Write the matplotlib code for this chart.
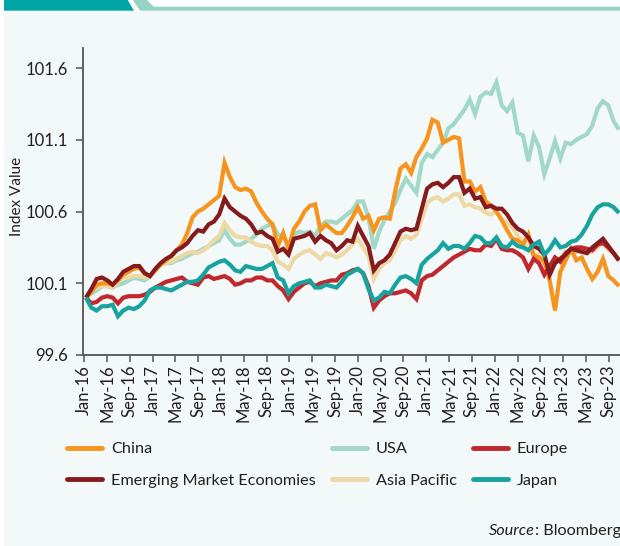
import numpy as np
import matplotlib
matplotlib.use("Agg")
import matplotlib.pyplot as plt
from matplotlib.patches import Polygon, Rectangle
from matplotlib.text import Annotation

plt.rcParams['font.family'] = ['Lato', 'DejaVu Sans']

years = ["16", "17", "18", "19", "20", "21", "22", "23"]
months = ["Jan", "May", "Sep"]
tick_labels = [f"{m}-{y}" for y in years for m in months]

china = [100.0, 100.04, 100.09, 100.1, 100.1, 100.09, 100.12, 100.16, 100.18, 100.2,
         100.21, 100.17, 100.15, 100.19, 100.23, 100.26, 100.29, 100.33, 100.37, 100.45,
         100.56, 100.6, 100.62, 100.65, 100.68, 100.71, 100.94, 100.84, 100.77, 100.75,
         100.76, 100.74, 100.66, 100.6, 100.55, 100.51, 100.36, 100.45, 100.34, 100.48,
         100.53, 100.6, 100.64, 100.65, 100.47, 100.51, 100.48, 100.45, 100.45, 100.5,
         100.56, 100.63, 100.55, 100.57, 100.47, 100.55, 100.56, 100.55, 100.74, 100.9,
         100.93, 100.87, 100.98, 101.04, 101.11, 101.24, 101.22, 101.08, 101.1, 101.12,
         101.11, 100.81, 100.81, 100.74, 100.77, 100.67, 100.64, 100.6, 100.54, 100.47,
         100.41, 100.4, 100.37, 100.44, 100.29, 100.28, 100.25, 100.12, 99.91, 100.18,
         100.26, 100.34, 100.26, 100.28, 100.2, 100.13, 100.18, 100.27, 100.15, 100.12,
         100.08]

usa = [100.0, 100.03, 100.05, 100.08, 100.08, 100.07, 100.09, 100.1, 100.12, 100.14,
       100.13, 100.12, 100.15, 100.19, 100.23, 100.24, 100.24, 100.26, 100.27, 100.29,
       100.31, 100.32, 100.34, 100.36, 100.38, 100.4, 100.47, 100.41, 100.37, 100.37,
       100.39, 100.41, 100.44, 100.48, 100.5, 100.51, 100.44, 100.43, 100.37, 100.44,
       100.46, 100.45, 100.46, 100.43, 100.5, 100.53, 100.53, 100.52, 100.55, 100.58,
       100.61, 100.67, 100.67, 100.56, 100.34, 100.46, 100.54, 100.6, 100.66, 100.75,
       100.83, 100.78, 100.73, 100.94, 101.0, 100.98, 101.03, 101.08, 101.18, 101.21,
       101.26, 101.31, 101.38, 101.28, 101.4, 101.43, 101.42, 101.5, 101.34, 101.3,
       101.36, 101.15, 101.13, 100.95, 101.13, 101.05, 100.86, 100.97, 101.09, 100.97,
       101.08, 101.07, 101.1, 101.12, 101.14, 101.2, 101.32, 101.37, 101.34, 101.23,
       101.17]

europe = [100.0, 99.96, 99.97, 100.0, 100.01, 100.0, 99.96, 100.0, 100.01, 100.01,
          100.01, 100.02, 100.04, 100.07, 100.09, 100.11, 100.12, 100.13, 100.14, 100.11,
          100.1, 100.09, 100.14, 100.15, 100.13, 100.14, 100.15, 100.13, 100.09, 100.1,
          100.12, 100.12, 100.14, 100.14, 100.12, 100.12, 100.08, 100.05, 99.99, 100.04,
          100.07, 100.1, 100.11, 100.08, 100.1, 100.11, 100.12, 100.12, 100.16, 100.17,
          100.19, 100.2, 100.17, 100.08, 99.93, 99.98, 100.01, 100.03, 100.03, 100.04,
          100.05, 100.03, 99.99, 100.12, 100.15, 100.16, 100.19, 100.22, 100.25, 100.28,
          100.3, 100.32, 100.34, 100.33, 100.33, 100.37, 100.36, 100.41, 100.34, 100.33,
          100.33, 100.31, 100.28, 100.2, 100.27, 100.24, 100.16, 100.22, 100.28, 100.25,
          100.31, 100.34, 100.35, 100.35, 100.34, 100.33, 100.37, 100.38, 100.35, 100.31,
          100.26]

eme = [100.0, 100.06, 100.13, 100.14, 100.12, 100.09, 100.13, 100.18, 100.2, 100.22,
       100.22, 100.17, 100.15, 100.2, 100.24, 100.27, 100.29, 100.33, 100.35, 100.38,
       100.43, 100.47, 100.46, 100.51, 100.53, 100.58, 100.69, 100.63, 100.6, 100.57,
       100.55, 100.51, 100.45, 100.46, 100.43, 100.41, 100.32, 100.34, 100.3, 100.41,
       100.42, 100.43, 100.45, 100.39, 100.43, 100.4, 100.38, 100.33, 100.36, 100.4,
       100.39, 100.5, 100.43, 100.36, 100.19, 100.24, 100.26, 100.3, 100.38, 100.46,
       100.48, 100.47, 100.48, 100.62, 100.76, 100.79, 100.8, 100.77, 100.8, 100.84,
       100.84, 100.73, 100.76, 100.69, 100.7, 100.63, 100.64, 100.62, 100.62, 100.58,
       100.52, 100.48, 100.46, 100.42, 100.36, 100.34, 100.3, 100.16, 100.24, 100.27,
       100.3, 100.34, 100.33, 100.32, 100.31, 100.35, 100.38, 100.41, 100.36, 100.31,
       100.26]

asia_pacific = [100.0, 100.04, 100.07, 100.08, 100.08, 100.07, 100.11, 100.14, 100.14, 100.15,
                100.15, 100.14, 100.15, 100.19, 100.23, 100.24, 100.25, 100.27, 100.29, 100.31,
                100.32, 100.31, 100.33, 100.36, 100.4, 100.43, 100.52, 100.47, 100.43, 100.42,
                100.42, 100.39, 100.37, 100.36, 100.36, 100.33, 100.25, 100.23, 100.2, 100.27,
                100.3, 100.32, 100.33, 100.3, 100.27, 100.31, 100.3, 100.28, 100.3, 100.33,
                100.37, 100.41, 100.35, 100.29, 100.13, 100.2, 100.24, 100.26, 100.33, 100.4,
                100.43, 100.41, 100.44, 100.55, 100.66, 100.69, 100.7, 100.67, 100.69, 100.72,
                100.72, 100.64, 100.65, 100.63, 100.62, 100.59, 100.58, 100.6, 100.55, 100.52,
                100.49, 100.43, 100.39, 100.34, 100.3, 100.3, 100.26, 100.14, 100.28, 100.27,
                100.32, 100.31, 100.32, 100.32, 100.31, 100.32, 100.35, 100.39, 100.33, 100.31,
                100.26]

japan = [100.0, 99.93, 99.91, 99.94, 99.94, 99.95, 99.87, 99.91, 99.93, 99.92,
         99.94, 99.98, 100.05, 100.07, 100.07, 100.06, 100.05, 100.07, 100.09, 100.11,
         100.11, 100.12, 100.16, 100.21, 100.23, 100.25, 100.26, 100.23, 100.19, 100.18,
         100.22, 100.21, 100.2, 100.2, 100.22, 100.24, 100.14, 100.12, 100.03, 100.08,
         100.1, 100.11, 100.12, 100.07, 100.07, 100.09, 100.08, 100.07, 100.11, 100.16,
         100.18, 100.2, 100.17, 100.06, 99.98, 100.0, 100.04, 100.03, 100.09, 100.14,
         100.15, 100.13, 100.1, 100.23, 100.27, 100.3, 100.33, 100.38, 100.34, 100.36,
         100.36, 100.34, 100.38, 100.43, 100.42, 100.38, 100.38, 100.42, 100.36, 100.35,
         100.39, 100.36, 100.35, 100.33, 100.37, 100.39, 100.3, 100.34, 100.4, 100.35,
         100.36, 100.39, 100.4, 100.44, 100.5, 100.58, 100.63, 100.65, 100.65, 100.63,
         100.59]

# sample span in months from Jan-16 (first and last sample)
span_start, span_end = 0.3, 93.8
y_ticks = [99.6, 100.1, 100.6, 101.1, 101.6]

series = [
    ("China", china, "#F7941D"),
    ("Emerging Market Economies", eme, "#861B1E"),
    ("USA", usa, "#A2D8C8"),
    ("Asia Pacific", asia_pacific, "#EDD8A6"),
    ("Europe", europe, "#C1272D"),
    ("Japan", japan, "#19A39F"),
]
draw_order = ["USA", "Asia Pacific", "China", "Europe", "Emerging Market Economies", "Japan"]

W, H = 620, 546
fig = plt.figure(figsize=(W / 100, H / 100), dpi=100)
fig.patch.set_facecolor("white")

bg = "#F3F9F9"
def fx(x): return x / W
def fy(y): return 1 - y / H
fig.patches.append(Rectangle((fx(4), 0), 1 - fx(4), fy(10.7), transform=fig.transFigure,
                             facecolor=bg, edgecolor="none", zorder=-10))
fig.patches.append(Polygon([(fx(4), 1), (fx(127.7), 1), (fx(134), fy(10.7)), (fx(4), fy(10.7))],
                           closed=True, transform=fig.transFigure,
                           facecolor="#00A6A6", edgecolor="none", zorder=-9))
fig.patches.append(Polygon([(fx(132.7), 1), (fx(146.7), 1), (fx(154), fy(6.7)), (1, fy(6.7)),
                            (1, fy(10.7)), (fx(140), fy(10.7))],
                           closed=True, transform=fig.transFigure,
                           facecolor="#95D3C3", edgecolor="none", zorder=-9))

ax = fig.add_axes([fx(83.3), fy(355), 1 - fx(83.3), fy(48) - fy(355)])
ax.set_facecolor("none")
ax.set_zorder(5)

n = len(china)
x = np.linspace(span_start, span_end, n)
lookup = {name: (vals, col) for name, vals, col in series}
lines = {}
for z, name in enumerate(draw_order):
    vals, col = lookup[name]
    ln, = ax.plot(x, vals, color=col, lw=3.0, label=name, zorder=2 + z,
                  solid_joinstyle="miter", solid_capstyle="butt")
    lines[name] = ln

ax.set_xlim(-0.17, 93.98)
ax.set_ylim(99.6, 101.74)
ax.set_yticks(y_ticks)
ax.set_yticklabels([f"{v:.1f}" for v in y_ticks])
ax.set_xticks(np.arange(len(tick_labels)) * 4)
ax.set_xticklabels(tick_labels, rotation=90)

txt = "#231F20"
for s in ["top", "right"]:
    ax.spines[s].set_visible(False)
for s in ["left", "bottom"]:
    ax.spines[s].set_color("#555555")
    ax.spines[s].set_linewidth(1.3)
ax.tick_params(axis="both", direction="out", length=5, width=1.1, color="#555555",
               labelcolor=txt, labelsize=12)
ax.tick_params(axis="y", pad=6)
ax.tick_params(axis="x", pad=2)
ax.set_ylabel("Index Value", fontsize=11, color=txt)
ax.yaxis.set_label_coords(-0.11, 0.515)

handles = [lines[name] for name, _, _ in series]
labels = [name for name, _, _ in series]
leg = fig.legend(handles, labels, ncol=3, loc="upper left",
                 bbox_to_anchor=(fx(67), fy(442)), frameon=False, borderpad=0,
                 borderaxespad=0, fontsize=11.7, handlelength=2.15, handletextpad=0.55,
                 columnspacing=1.0, labelspacing=1.05, labelcolor=txt)
leg.set_zorder(6)
for h in leg.legend_handles:
    h.set_linewidth(3.5)
    h.set_solid_capstyle("round")

t1 = fig.text(fx(489), fy(531), "Source", fontsize=11.7, style="italic", color=txt,
              va="center", ha="left", zorder=6)
ann = Annotation(": Bloomberg", xy=(1, 0.5), xycoords=t1, va="center",
                 ha="left", fontsize=11.7, color=txt, annotation_clip=False)
ann.set_zorder(6)
fig.add_artist(ann)

fig.savefig("out.png", dpi=100, facecolor=fig.get_facecolor())
